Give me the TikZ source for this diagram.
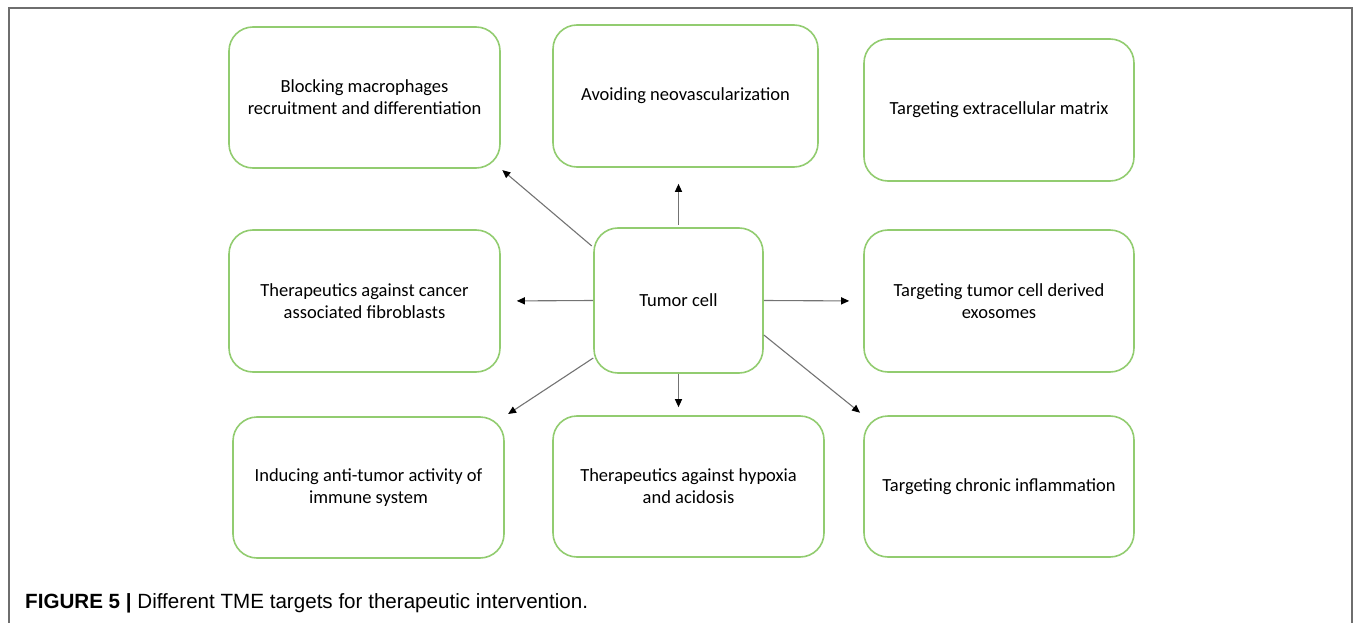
\documentclass[tikz,border=0pt]{standalone}
\usepackage{fontspec}
\setmainfont{Carlito}
\newfontfamily\capfont{Liberation Sans}
\usetikzlibrary{arrows.meta}
\usepackage{xcolor}
\definecolor{boxgreen}{RGB}{146,204,112}
\definecolor{framegray}{RGB}{110,110,110}

\begin{document}
\begin{tikzpicture}[x=1pt,y=-1pt]
	\tikzset{
		target/.style={%
			draw=boxgreen,
			rounded corners=24pt,
			line width=1.6pt,
			align=center,
			inner sep=0pt,
			minimum width=271pt,
			minimum height=141pt,
			font=\fontsize{18.5}{22}\selectfont}
	}

	\tikzstyle{edge_style} = [draw=black!55, line width=1.1pt, -{Triangle[length=8pt,width=7pt,color=black]}]

	\useasboundingbox (0,0) rectangle (1355,623);
	\draw[framegray, line width=1.4pt] (9,623) -- (9,8) -- (1352,8) -- (1352,623);

	\node[target, minimum width=169pt, minimum height=145pt] (tumor) at (678.5,300.5) {Tumor cell};

	\node[target] (mac) at (364.5,97.5) {Blocking macrophages\\recruitment and differentiation};
	\node[target, minimum width=265pt, minimum height=142pt] (neo) at (685.5,96) {Avoiding neovascularization};
	\node[target, minimum width=270pt, minimum height=142pt] (ecm) at (999,110) {Targeting extracellular matrix};
	\node[target, minimum height=142pt] (caf) at (364.5,301) {Therapeutics against cancer\\associated fibroblasts};
	\node[target, minimum width=270pt, minimum height=142pt] (exo) at (999,301) {Targeting tumor cell derived\\exosomes};
	\node[target] (imm) at (368.5,487.5) {Inducing anti-tumor activity of\\immune system};
	\node[target] (hyp) at (688.5,486.5) {Therapeutics against hypoxia\\and acidosis};
	\node[target, minimum width=270pt] (inf) at (999,486.5) {Targeting chronic inflammation};

	\draw[edge_style, shorten <=2pt, shorten >=16pt] (tumor.north) -- (tumor.north |- neo.south);
	\draw[edge_style, shorten <=2pt, shorten >=2pt] (tumor.148) -- (mac.south east);
	\draw[edge_style, shorten >=16pt] (tumor.west) -- (caf.east);
	\draw[edge_style, shorten >=14pt] (tumor.east) -- (exo.west);
	\draw[edge_style, shorten >=8pt] (tumor.south) -- (tumor.south |- hyp.north);
	\draw[edge_style, shorten >=4pt] (tumor.214) -- (imm.north east);
	\draw[edge_style, shorten >=4pt] (tumor.-22) -- (inf.north west);

	\node[anchor=base west, inner sep=0pt, font=\capfont\fontsize{20.6}{23}\selectfont] (cap) at (25,608)
		{\textbf{FIGURE 5 |} Different TME targets for therapeutic intervention.};
\end{tikzpicture}
\end{document}
